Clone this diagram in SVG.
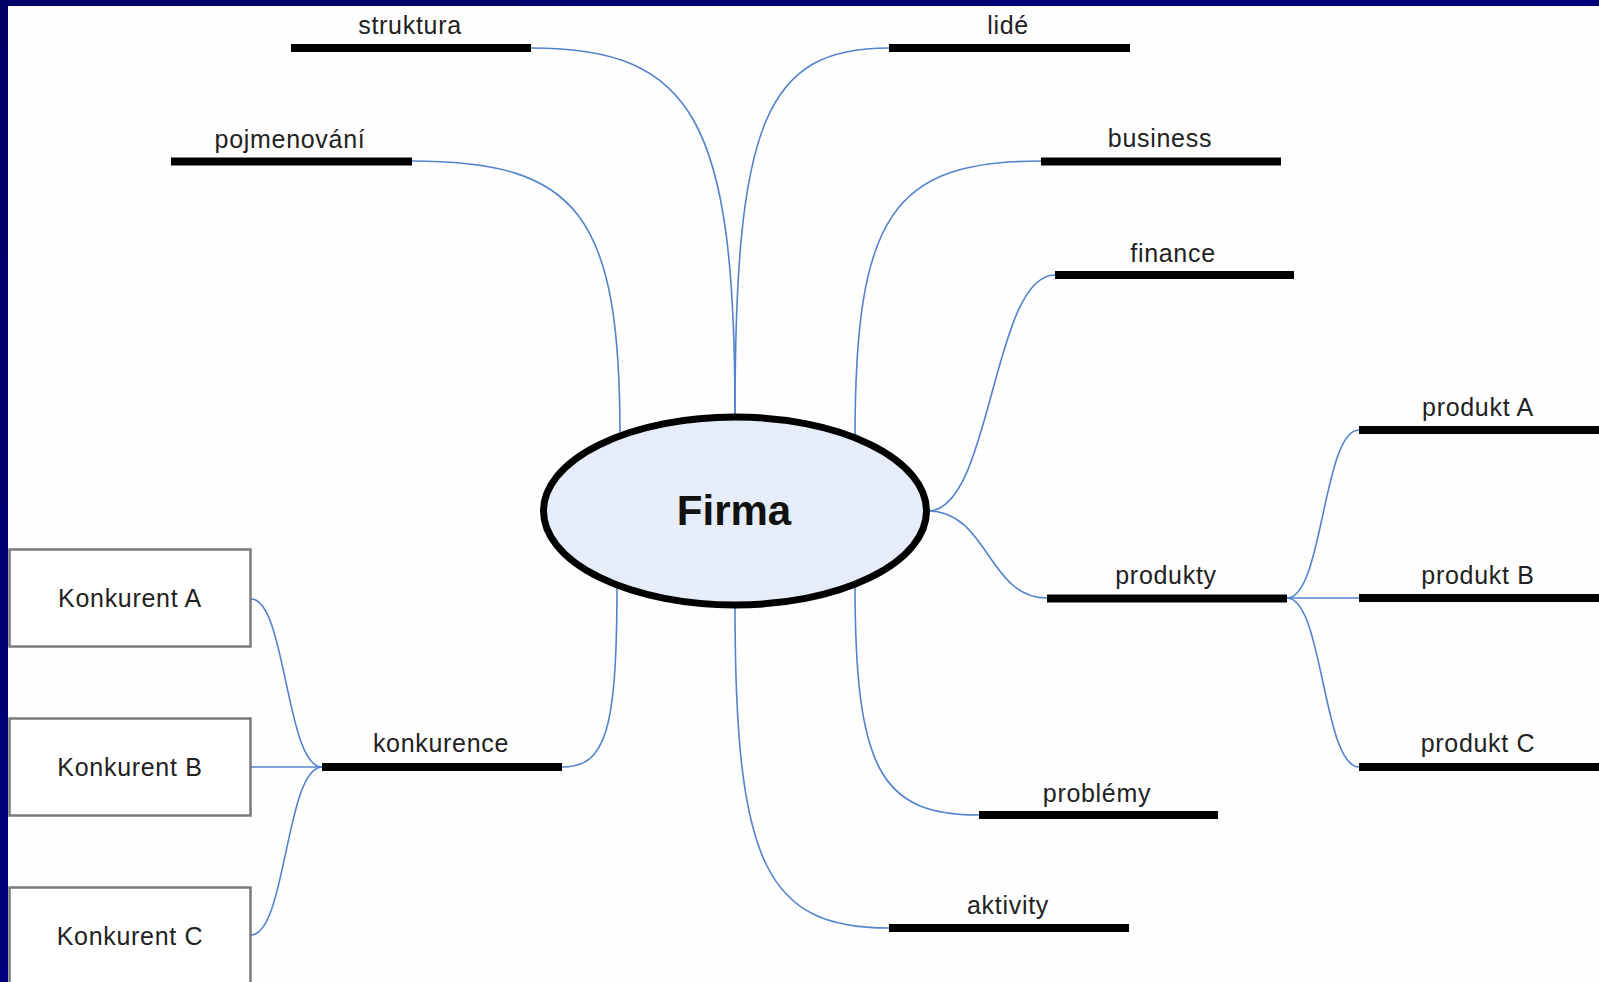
<svg xmlns="http://www.w3.org/2000/svg" width="1599" height="982" viewBox="0 0 1599 982">
<defs>
<linearGradient id="frame" x1="0" y1="0" x2="1" y2="1">
<stop offset="0" stop-color="#000066"/>
<stop offset="0.5" stop-color="#00007c"/>
<stop offset="1" stop-color="#000070"/>
</linearGradient>
<style>
.c{fill:none;stroke:#5383cc;stroke-width:1.6}
.bar{fill:#000}
.t{font-family:"Liberation Sans",Arial,sans-serif;font-size:25px;letter-spacing:0.7px;fill:#222;text-anchor:middle}
.box{fill:#fff;stroke:#7a7a7a;stroke-width:2.5}
</style>
</defs>
<rect x="0" y="0" width="1599" height="982" fill="url(#frame)"/>
<rect x="8" y="6" width="1591" height="976" fill="#fefefe"/>

<g id="connectors">
<path class="c" d="M531,48 C694,48 735,121 735,415"/>
<path class="c" d="M889,48 C766,48 735,121 735,415"/>
<path class="c" d="M412,161 C578,161 620,215 620,435"/>
<path class="c" d="M1041,161 C892,161 855,216 855,439"/>
<path class="c" d="M928,511 C992,511 992,275 1055,275"/>
<path class="c" d="M928,511 C988,511 988,598 1047,598"/>
<path class="c" d="M855,583 C855,769 880,815 979,815"/>
<path class="c" d="M735,606 C735,864 766,928 889,928"/>
<path class="c" d="M617,583 C617,731 606,767 562,767"/>
<path class="c" d="M1287,598 C1323,598 1323,430 1359,430"/>
<path class="c" d="M1287,598 L1359,598"/>
<path class="c" d="M1287,598 C1323,598 1323,767 1359,767"/>
<path class="c" d="M251,599 C286,599 286,767 322,767"/>
<path class="c" d="M251,767 L322,767"/>
<path class="c" d="M251,935 C286,935 286,767 322,767"/>
</g>

<g id="firma">
<ellipse cx="735" cy="511" rx="191.5" ry="94" fill="#e6edf8" stroke="#000" stroke-width="7"/>
<text x="734" y="525" style="font-family:'Liberation Sans',Arial,sans-serif;font-size:42px;font-weight:bold;fill:#111;text-anchor:middle">Firma</text>
</g>

<g id="struktura">
<rect class="bar" x="291" y="44" width="240" height="8"/>
<text class="t" x="410" y="34">struktura</text>
</g>
<g id="lide">
<rect class="bar" x="889" y="44" width="241" height="8"/>
<text class="t" x="1008" y="34">lidé</text>
</g>
<g id="pojmenovani">
<rect class="bar" x="171" y="157.5" width="241" height="8"/>
<text class="t" x="290" y="147.5">pojmenování</text>
</g>
<g id="business">
<rect class="bar" x="1041" y="157.5" width="240" height="8"/>
<text class="t" x="1160" y="147">business</text>
</g>
<g id="finance">
<rect class="bar" x="1055" y="271" width="239" height="8"/>
<text class="t" x="1173" y="262">finance</text>
</g>
<g id="produkty">
<rect class="bar" x="1047" y="594.5" width="240" height="8"/>
<text class="t" x="1166" y="584">produkty</text>
</g>
<g id="produktA">
<rect class="bar" x="1359" y="426" width="240" height="8"/>
<text class="t" x="1478" y="416">produkt A</text>
</g>
<g id="produktB">
<rect class="bar" x="1359" y="594" width="240" height="8"/>
<text class="t" x="1478" y="584">produkt B</text>
</g>
<g id="produktC">
<rect class="bar" x="1359" y="763" width="240" height="8"/>
<text class="t" x="1478" y="752">produkt C</text>
</g>
<g id="problemy">
<rect class="bar" x="979" y="811" width="239" height="8"/>
<text class="t" x="1097" y="802">problémy</text>
</g>
<g id="aktivity">
<rect class="bar" x="889" y="924" width="240" height="8"/>
<text class="t" x="1008" y="914">aktivity</text>
</g>
<g id="konkurence">
<rect class="bar" x="322" y="763" width="240" height="8"/>
<text class="t" x="441" y="752">konkurence</text>
</g>
<g id="konkurentA">
<rect class="box" x="9.5" y="549.5" width="241" height="97"/>
<text class="t" x="130" y="607">Konkurent A</text>
</g>
<g id="konkurentB">
<rect class="box" x="9.5" y="718.5" width="241" height="97"/>
<text class="t" x="130" y="776">Konkurent B</text>
</g>
<g id="konkurentC">
<rect class="box" x="9.5" y="887.5" width="241" height="100"/>
<text class="t" x="130" y="945">Konkurent C</text>
</g>
</svg>
